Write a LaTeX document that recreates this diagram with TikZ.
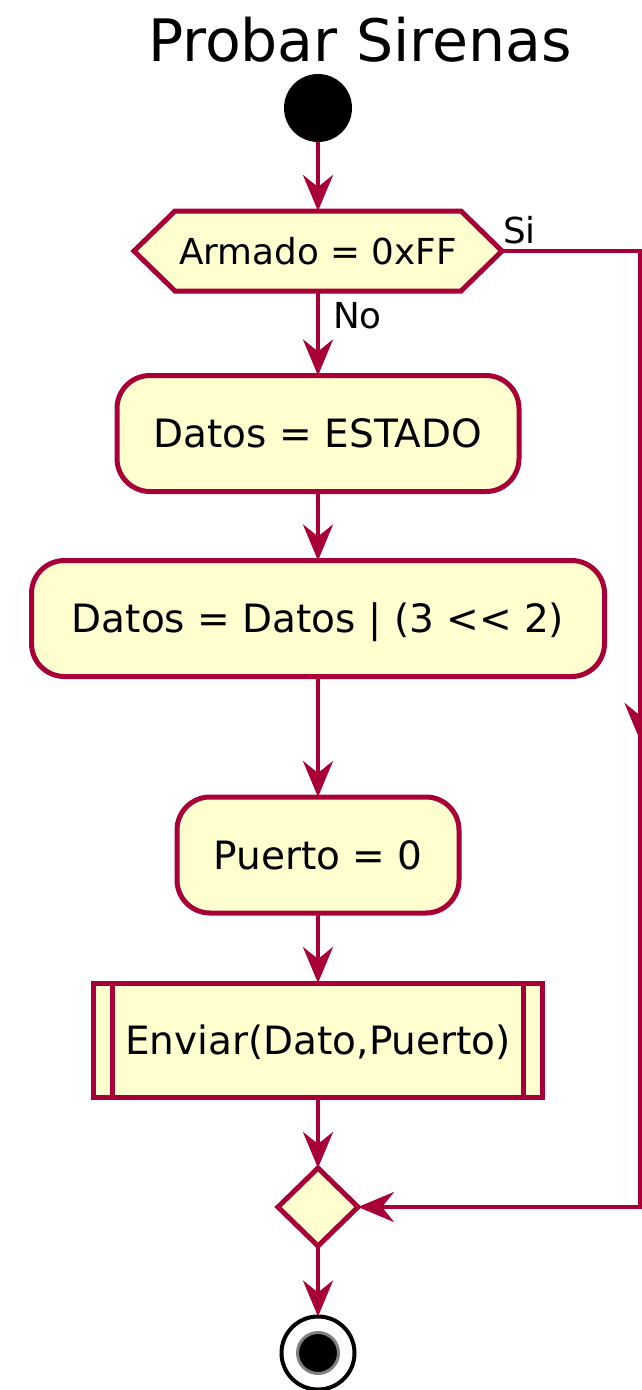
\documentclass[tikz,border=0pt]{standalone}
\usepackage{fontspec}
\setmainfont{DejaVu Sans}
\usetikzlibrary{arrows.meta,shapes.geometric,calc}
\definecolor{umlred}{HTML}{A80036}
\definecolor{umlfill}{HTML}{FEFECE}
\pgfdeclarelayer{bg}
\pgfsetlayers{bg,main}
\begin{document}
\begin{tikzpicture}[x=1pt,y=-1pt,
  conn/.style={draw=umlred, line width=4pt,
    -{Stealth[length=36pt,width=30pt,inset=12pt]}},
  act/.style={draw=umlred, fill=umlfill, line width=5pt, rounded corners=33pt,
    inner sep=0pt, outer sep=0pt, font=\fontsize{39}{47}\selectfont,
    text height=28.4pt, text depth=0pt, minimum height=116pt},
  sub/.style={act, rounded corners=0pt},
  cond/.style={inner sep=0pt, outer sep=0pt, font=\fontsize{35.75}{43}\selectfont,
    text height=26pt, text depth=0pt, minimum width=368pt, minimum height=80pt},
  condshape/.style={draw=umlred, fill=umlfill, line width=5pt, line join=miter},
  merge/.style={diamond, draw=umlred, fill=umlfill, line width=5pt, inner sep=0pt,
    outer sep=0pt, minimum width=80pt, minimum height=78pt},
  lbl/.style={font=\fontsize{35.75}{43}\selectfont, inner sep=0pt, anchor=base west},
  startdot/.style={circle, fill=black, inner sep=0pt, outer sep=0pt, minimum size=68pt},
  endring/.style={circle, draw=black, fill=white, line width=4pt, inner sep=0pt,
    outer sep=0pt, minimum size=73pt},
  enddot/.style={circle, draw=black!50, fill=black, line width=3pt, inner sep=0pt,
    minimum size=41pt}
]
\useasboundingbox (0,0) rectangle (642,1390);
\begin{pgfonlayer}{bg}
  \fill[white] (0,0) rectangle (642,1390);
\end{pgfonlayer}

% title
\node[font=\fontsize{58.5}{70}\selectfont, inner sep=0pt, anchor=base] (title)
  at (360,61) {Probar Sirenas};

% nodes
\node[startdot] (start) at (318,108) {};
\node[cond] (hex) at (318,251) {Armado = 0xFF};
\begin{pgfonlayer}{bg}
  \draw[condshape] (hex.west) -- ([xshift=41pt]hex.north west)
    -- ([xshift=-41pt]hex.north east) -- (hex.east)
    -- ([xshift=-41pt]hex.south east) -- ([xshift=41pt]hex.south west) -- cycle;
\end{pgfonlayer}
\node[act, minimum width=402pt] (estado) at (318,433.5) {Datos = ESTADO};
\node[act, minimum width=573pt] (mask) at (318,618.5) {Datos = Datos | (3 <\kern0pt< 2)};
\node[act, minimum width=282pt] (puerto) at (318,855) {Puerto = 0};
\node[sub, minimum width=449pt, minimum height=114pt] (enviar) at (318,1040) {Enviar(Dato,Puerto)};
\draw[draw=umlred, line width=4.5pt] ([xshift=19pt]enviar.north west) -- ([xshift=19pt]enviar.south west);
\draw[draw=umlred, line width=4.5pt] ([xshift=-19pt]enviar.north east) -- ([xshift=-19pt]enviar.south east);
\node[merge] (join) at (318,1207) {};
\node[endring] (stop) at (318,1353) {};
\node[enddot] (stopdot) at (stop.center) {};

% branch labels
\node[lbl] (nolbl) at (333,328) {No};
\node[lbl] (silbl) at (503,243) {Si};

% connectors
\coordinate (rt) at (639.5,251);
\coordinate (rb) at (639.5,1207);
\coordinate (rmid) at (639.5,739);
\draw[conn] (start.south) -- (hex.north);
\draw[conn] (hex.south) -- (estado.north);
\draw[conn] (estado.south) -- (mask.north);
\draw[conn] (mask.south) -- (puerto.north);
\draw[conn] (puerto.south) -- (enviar.north);
\draw[conn] (enviar.south) -- (join.north);
\draw[conn] (join.south) -- (stop.north);
\draw[conn, line join=miter] (hex.east) -- (rt) -- (rb) -- (join.east);
\draw[conn] (rt) -- (rmid);
\end{tikzpicture}
\end{document}
